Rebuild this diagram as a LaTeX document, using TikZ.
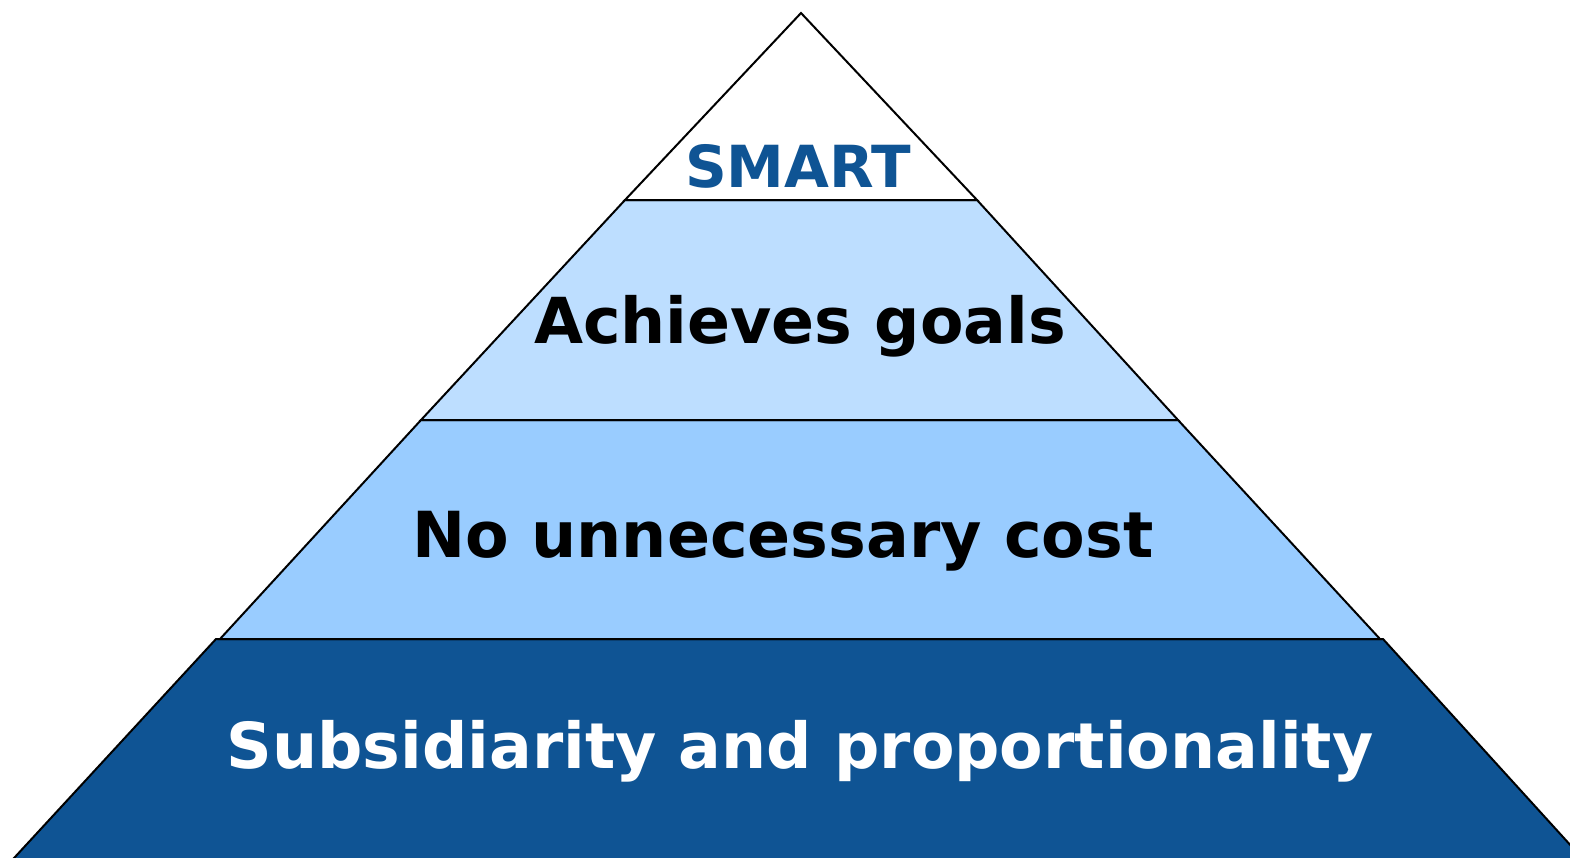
\documentclass[tikz,border=0pt]{standalone}
\usepackage{fontspec}
\setmainfont{DejaVu Sans}
\begin{document}
\begin{tikzpicture}[x=1pt,y=-1pt,
  layer/.style={draw=black,line width=2pt,line join=miter},
  lbl/.style={anchor=base,inner sep=0pt,font=\bfseries}]
\definecolor{bandA}{HTML}{BDDEFF}
\definecolor{bandB}{HTML}{99CCFF}
\definecolor{bandC}{HTML}{0F5494}
\useasboundingbox (0,0) rectangle (1570,857);
\begin{scope}
\clip (0,0) rectangle (1570,857);
\draw[layer,fill=bandC] (216,639) -- (1383,639) -- (1593,870) -- (3,870) -- cycle;
\draw[layer,fill=bandB] (421,420) -- (1178,420) -- (1380,639) -- (220,639) -- cycle;
\draw[layer,fill=bandA] (625,200) -- (977,200) -- (1178,420) -- (421,420) -- cycle;
\draw[layer,fill=white] (801,13) -- (977,200) -- (625,200) -- cycle;
\end{scope}
\node[lbl,text=bandC,font=\bfseries\fontsize{58}{58}\selectfont] (smart) at (798,187) {SMART};
\node[lbl,font=\bfseries\fontsize{63.4}{64}\selectfont] (goals) at (800,343) {Achieves goals};
\node[lbl,font=\bfseries\fontsize{63.5}{64}\selectfont] (cost) at (783,557) {No unnecessary cost};
\node[lbl,text=white,font=\bfseries\fontsize{63.4}{64}\selectfont] (subs) at (800,768) {Subsidiarity and proportionality};
\end{tikzpicture}
\end{document}
